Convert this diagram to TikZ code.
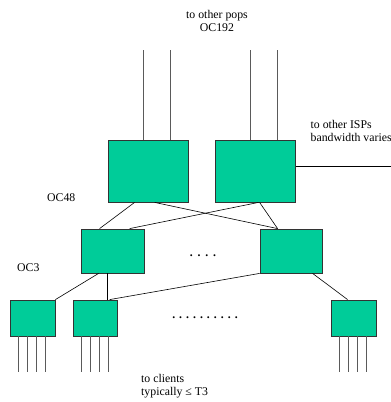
\documentclass[tikz,border=0pt]{standalone}
\usepackage{fontspec}
\setmainfont{Liberation Serif}
\usetikzlibrary{positioning,calc}
\definecolor{routergreen}{RGB}{0,204,153}
\definecolor{wiregray}{RGB}{90,90,90}
\tikzset{
    router/.style={draw=black!80, fill=routergreen, line width=0.8pt, inner sep=0pt},
    link/.style={black, line width=0.6pt},
    wire/.style={wiregray, line width=0.8pt},
    lbl/.style={font=\fontsize{11.8}{13.5}\selectfont, inner sep=0pt}
}
\begin{document}
\begin{tikzpicture}[x=1pt,y=-1pt]
    \useasboundingbox (0,0) rectangle (391,402);

    % core routers
    \node[router, minimum width=80pt, minimum height=62pt] (tl) at (148.5,171) {};
    \node[router, minimum width=80pt, minimum height=62pt] (tr) at (255.5,171) {};
    % aggregation routers
    \node[router, minimum width=63pt, minimum height=44pt] (ml) at (112.5,251) {};
    \node[router, minimum width=62pt, minimum height=44pt] (mr) at (291,251) {};
    % access routers
    \node[router, minimum width=45pt, minimum height=36pt] (ba) at (32.5,318) {};
    \node[router, minimum width=44pt, minimum height=36pt] (bb) at (95,318) {};
    \node[router, minimum width=45pt, minimum height=36pt] (bc) at (353.5,318) {};

    % OC192 uplinks
    \foreach \r in {tl,tr} {
        \foreach \dx [count=\i] in {35.5,62.5} {
            \coordinate (up-\r-\i) at ([xshift=\dx pt]\r.north west |- 0,50);
            \draw[wire] ([xshift=\dx pt]\r.north west) -- (up-\r-\i);
        }
    }

    % peering link
    \coordinate (isp) at (391,166);
    \draw[link] ([yshift=5pt]tr.east) -- (isp);

    % OC48 links
    \draw[link] ([xshift=26.5pt]tl.south west) -- ([xshift=19pt]ml.north west);
    \draw[link] ([xshift=46.5pt]tl.south west) -- ([xshift=18pt]mr.north west);
    \draw[link] ([xshift=43.5pt]tr.south west) -- ([xshift=49pt]ml.north west);
    \draw[link] ([xshift=44.5pt]tr.south west) -- ([xshift=18pt]mr.north west);

    % OC3 links
    \draw[link] ([xshift=18pt]ml.south west) -- (ba.north east);
    \draw[link] ([xshift=27pt]ml.south west) -- ([xshift=35pt]bb.north west);
    \draw[link] (mr.south west) -- ([xshift=37pt]bb.north west);
    \draw[link] ([xshift=53pt]mr.south west) -- ([xshift=17pt]bc.north west);

    % client lines
    \foreach \r in {ba,bb,bc} {
        \foreach \dx [count=\i] in {9,18,27,36} {
            \coordinate (cl-\r-\i) at ([xshift=\dx pt]\r.south west |- 0,372);
            \draw[wire] ([xshift=\dx pt]\r.south west) -- (cl-\r-\i);
        }
    }

    % labels
    \node[lbl, align=center] (pops) at (217,21) {to other pops\\OC192};
    \node[lbl, align=left, anchor=west] (isps) at (310.5,131) {to other ISPs\\bandwidth varies};
    \node[lbl, anchor=west] (oc48) at (47,198) {OC48};
    \node[lbl, anchor=west] (oc3) at (17,268) {OC3};
    \node[lbl, align=left, anchor=west] (clients) at (141,386) {to clients\\typically ≤ T3};
    \node[lbl, font=\fontsize{11.8}{13.5}\selectfont\bfseries, anchor=base] (dotsm) at (203,256.5) {.\hspace{4.8pt}.\hspace{4.8pt}.\hspace{4.8pt}.};
    \node[lbl, font=\fontsize{11.8}{13.5}\selectfont\bfseries, anchor=base] (dotsb) at (205,318.5) {.\hspace{4pt}.\hspace{4pt}.\hspace{4pt}.\hspace{4pt}.\hspace{4pt}.\hspace{4pt}.\hspace{4pt}.\hspace{4pt}.\hspace{4pt}.};
\end{tikzpicture}
\end{document}
